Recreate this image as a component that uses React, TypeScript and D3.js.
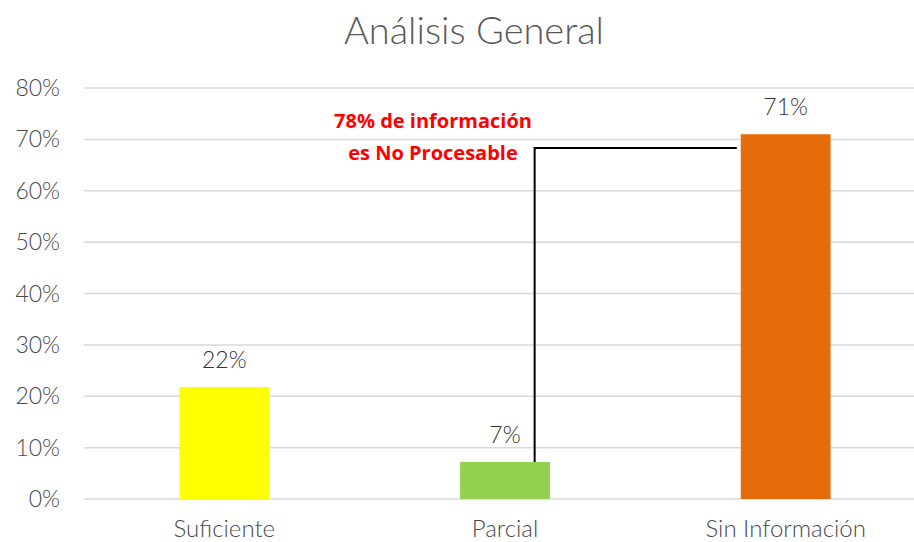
import React from 'react';
import * as d3 from 'd3';

const categories = ['Suficiente', 'Parcial', 'Sin Información'];
const values = [0.218, 0.072, 0.71];
const dataLabels = ['22%', '7%', '71%'];
const barColors = ['#FFFF00', '#92D050', '#E46C0A'];
const yTicks = [0, 0.1, 0.2, 0.3, 0.4, 0.5, 0.6, 0.7, 0.8];
const annotationLines = ['78% de información', 'es No Procesable'];
const connectorLevel = 0.683;

const W = 914;
const H = 542;
const margin = { top: 88, right: -12, bottom: 43, left: 84 };

const App = () => {
    const x = d3
        .scaleBand()
        .domain(categories)
        .range([margin.left, W - margin.right])
        .paddingInner(0.68)
        .paddingOuter(0.34);

    const y = d3.scaleLinear().domain([0, 0.8]).range([H - margin.bottom, margin.top]);
    const fmt = d3.format('.0%');
    const font = 'Lato, "Noto Sans", sans-serif';

    // connector from Parcial bar up to the Sin Información bar
    const parcialX = (x('Parcial') as number) + x.bandwidth() * 0.83;
    const sinX = (x('Sin Información') as number) - 4;
    const lineY = y(connectorLevel);

    return (
        <svg width={W} height={H} style={{ position: 'absolute', left: 0, top: 0 }}>
            <rect width={W} height={H} fill="#fff" />
            <text x={474} y={44} textAnchor="middle" fontFamily={font} fontWeight={300} fontSize={38} fill="#595959">
                Análisis General
            </text>
            {yTicks.map((t) => (
                <g key={t}>
                    <line x1={margin.left} x2={W} y1={y(t)} y2={y(t)} stroke="#D9D9D9" strokeWidth={1.5} />
                    <text x={60} y={y(t) + 8} textAnchor="end" fontFamily={font} fontWeight={300} fontSize={23} fill="#4a4a4a">
                        {fmt(t)}
                    </text>
                </g>
            ))}
            {categories.map((c, i) => (
                <g key={c}>
                    <rect
                        x={x(c)}
                        y={y(values[i])}
                        width={x.bandwidth()}
                        height={y(0) - y(values[i])}
                        fill={barColors[i]}
                    />
                    <text
                        x={(x(c) as number) + x.bandwidth() / 2}
                        y={y(values[i]) - 19}
                        textAnchor="middle"
                        fontFamily={font}
                        fontWeight={300}
                        fontSize={23}
                        fill="#333"
                    >
                        {dataLabels[i]}
                    </text>
                    <text
                        x={(x(c) as number) + x.bandwidth() / 2}
                        y={537}
                        textAnchor="middle"
                        fontFamily={font}
                        fontWeight={300}
                        fontSize={24}
                        fill="#4a4a4a"
                    >
                        {c}
                    </text>
                </g>
            ))}
            <path
                d={`M${parcialX},${y(values[1])} V${lineY} H${sinX}`}
                fill="none"
                stroke="#000"
                strokeWidth={2}
            />
            {annotationLines.map((l, i) => (
                <text
                    key={l}
                    x={433}
                    y={128 + i * 32}
                    textAnchor="middle"
                    fontFamily='"Open Sans", sans-serif'
                    fontWeight={700}
                    fontSize={20}
                    fill="#FF0000"
                >
                    {l}
                </text>
            ))}
        </svg>
    );
};

export default App;
